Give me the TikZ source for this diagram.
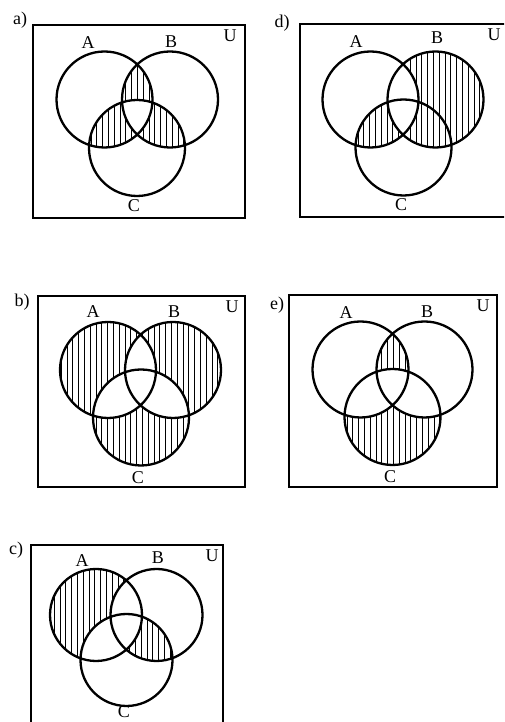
\documentclass[tikz,border=0pt]{standalone}
\usepackage{fontspec}
\setmainfont{Liberation Serif}
\usepackage{tikz}

\begin{document}
\begin{tikzpicture}[x=1pt, y=1pt,
    ring/.style={line width=2.3pt},
    frame/.style={line width=1.2pt},
    hatch/.style={line width=0.9pt},
    lbl/.style={inner sep=0pt, font=\fontsize{18}{20}\selectfont}]
    % Cadre de la page
    \clip (0,0) rectangle (504,722);
    % (le cercle est parcouru a l'envers du grand cadre : on garde l'exterieur)

    % ---------- a) ----------
    \begin{scope}[shift={(33,697)}]
        \coordinate (A) at (71.5,-74.5);
        \coordinate (B) at (137,-74.5);
        \coordinate (C) at (104,-123);
        % A et B sans C
        \begin{scope}
            \clip (A) circle (48);
            \clip (B) circle (48);
            \clip (C) circle (48) (-40,40) -- (260,40) -- (260,-240) -- (-40,-240) -- cycle;
            \foreach \x in {0,5.8,...,212} \draw[hatch] (\x,0) -- (\x,-200);
        \end{scope}
        % A et C sans B
        \begin{scope}
            \clip (A) circle (48);
            \clip (C) circle (48);
            \clip (B) circle (48) (-40,40) -- (260,40) -- (260,-240) -- (-40,-240) -- cycle;
            \foreach \x in {0,5.8,...,212} \draw[hatch] (\x,0) -- (\x,-200);
        \end{scope}
        % B et C sans A
        \begin{scope}
            \clip (B) circle (48);
            \clip (C) circle (48);
            \clip (A) circle (48) (-40,40) -- (260,40) -- (260,-240) -- (-40,-240) -- cycle;
            \foreach \x in {0,5.8,...,212} \draw[hatch] (\x,0) -- (\x,-200);
        \end{scope}
        \draw[frame] (0,0) rectangle (212,-193);
        \draw[ring] (A) circle (48) (B) circle (48) (C) circle (48);
        \node[lbl] (alab) at (-13,5) {a)};
        \node[lbl] (aA) at (55,-18) {A};
        \node[lbl] (aB) at (138,-17) {B};
        \node[lbl] (aU) at (197,-11) {U};
        \node[lbl] (aC) at (101,-181) {C};
    \end{scope}

    % ---------- d) ----------
    \begin{scope}[shift={(300,698)}]
        \coordinate (A) at (70.5,-75.5);
        \coordinate (B) at (135.5,-75.5);
        \coordinate (C) at (103.5,-123.5);
        % B sans A
        \begin{scope}
            \clip (B) circle (48);
            \clip (A) circle (48) (-40,40) -- (260,40) -- (260,-240) -- (-40,-240) -- cycle;
            \foreach \x in {0,5.8,...,212} \draw[hatch] (\x,0) -- (\x,-200);
        \end{scope}
        % A et C sans B
        \begin{scope}
            \clip (A) circle (48);
            \clip (C) circle (48);
            \clip (B) circle (48) (-40,40) -- (260,40) -- (260,-240) -- (-40,-240) -- cycle;
            \foreach \x in {0,5.8,...,212} \draw[hatch] (\x,0) -- (\x,-200);
        \end{scope}
        \draw[frame] (0,0) rectangle (212,-193);
        \draw[ring] (A) circle (48) (B) circle (48) (C) circle (48);
        \node[lbl] (dlab) at (-18,1) {d)};
        \node[lbl] (dA) at (56,-18) {A};
        \node[lbl] (dB) at (137,-14) {B};
        \node[lbl] (dU) at (194,-11) {U};
        \node[lbl] (dC) at (101,-181) {C};
    \end{scope}

    % ---------- b) ----------
    \begin{scope}[shift={(38,426)}]
        \coordinate (A) at (70,-74);
        \coordinate (B) at (135,-74);
        \coordinate (C) at (103,-121.5);
        % A seul
        \begin{scope}
            \clip (A) circle (48);
            \clip (B) circle (48) (-40,40) -- (260,40) -- (260,-240) -- (-40,-240) -- cycle;
            \clip (C) circle (48) (-40,40) -- (260,40) -- (260,-240) -- (-40,-240) -- cycle;
            \foreach \x in {0,5.8,...,212} \draw[hatch] (\x,0) -- (\x,-200);
        \end{scope}
        % B seul
        \begin{scope}
            \clip (B) circle (48);
            \clip (A) circle (48) (-40,40) -- (260,40) -- (260,-240) -- (-40,-240) -- cycle;
            \clip (C) circle (48) (-40,40) -- (260,40) -- (260,-240) -- (-40,-240) -- cycle;
            \foreach \x in {0,5.8,...,212} \draw[hatch] (\x,0) -- (\x,-200);
        \end{scope}
        % C seul
        \begin{scope}
            \clip (C) circle (48);
            \clip (A) circle (48) (-40,40) -- (260,40) -- (260,-240) -- (-40,-240) -- cycle;
            \clip (B) circle (48) (-40,40) -- (260,40) -- (260,-240) -- (-40,-240) -- cycle;
            \foreach \x in {0,5.8,...,212} \draw[hatch] (\x,0) -- (\x,-200);
        \end{scope}
        \draw[frame] (0,0) rectangle (207,-191);
        \draw[ring] (A) circle (48) (B) circle (48) (C) circle (48);
        \node[lbl] (blab) at (-16,-6) {b)};
        \node[lbl] (bA) at (55,-16) {A};
        \node[lbl] (bB) at (136,-16) {B};
        \node[lbl] (bU) at (194,-11) {U};
        \node[lbl] (bC) at (100,-182) {C};
    \end{scope}

    % ---------- e) ----------
    \begin{scope}[shift={(289,427)}]
        \coordinate (A) at (71.5,-74.5);
        \coordinate (B) at (135.5,-74.5);
        \coordinate (C) at (103.5,-122);
        % A et B sans C
        \begin{scope}
            \clip (A) circle (48);
            \clip (B) circle (48);
            \clip (C) circle (48) (-40,40) -- (260,40) -- (260,-240) -- (-40,-240) -- cycle;
            \foreach \x in {0,5.8,...,212} \draw[hatch] (\x,0) -- (\x,-200);
        \end{scope}
        % C seul
        \begin{scope}
            \clip (C) circle (48);
            \clip (A) circle (48) (-40,40) -- (260,40) -- (260,-240) -- (-40,-240) -- cycle;
            \clip (B) circle (48) (-40,40) -- (260,40) -- (260,-240) -- (-40,-240) -- cycle;
            \foreach \x in {0,5.8,...,212} \draw[hatch] (\x,0) -- (\x,-200);
        \end{scope}
        \draw[frame] (0,0) rectangle (208,-192);
        \draw[ring] (A) circle (48) (B) circle (48) (C) circle (48);
        \node[lbl] (elab) at (-12,-10) {e)};
        \node[lbl] (eA) at (57,-18) {A};
        \node[lbl] (eB) at (138,-17) {B};
        \node[lbl] (eU) at (194,-11) {U};
        \node[lbl] (eC) at (101,-182) {C};
    \end{scope}

    % ---------- c) ----------
    \begin{scope}[shift={(31,177)}]
        \coordinate (A) at (65,-70);
        \coordinate (B) at (125.5,-70);
        \coordinate (C) at (95.5,-115);
        % A seul
        \begin{scope}
            \clip (A) circle (46);
            \clip (B) circle (46) (-40,40) -- (260,40) -- (260,-240) -- (-40,-240) -- cycle;
            \clip (C) circle (46) (-40,40) -- (260,40) -- (260,-240) -- (-40,-240) -- cycle;
            \foreach \x in {0,5.8,...,192} \draw[hatch] (\x,0) -- (\x,-200);
        \end{scope}
        % B et C sans A
        \begin{scope}
            \clip (B) circle (46);
            \clip (C) circle (46);
            \clip (A) circle (46) (-40,40) -- (260,40) -- (260,-240) -- (-40,-240) -- cycle;
            \foreach \x in {0,5.8,...,192} \draw[hatch] (\x,0) -- (\x,-200);
        \end{scope}
        \draw[frame] (0,0) rectangle (192,-220);
        \draw[ring] (A) circle (46) (B) circle (46) (C) circle (46);
        \node[lbl] (clab) at (-15,-5) {c)};
        \node[lbl] (cA) at (51,-16) {A};
        \node[lbl] (cB) at (127,-13) {B};
        \node[lbl] (cU) at (181,-11) {U};
        \node[lbl] (cC) at (93,-167) {C};
    \end{scope}
\end{tikzpicture}
\end{document}
